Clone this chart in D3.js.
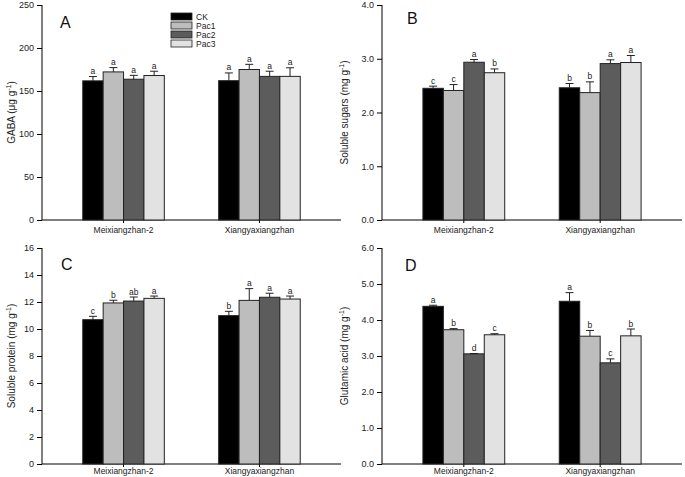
<!DOCTYPE html>
<html><head><meta charset="utf-8">
<script src="https://cdn.jsdelivr.net/npm/d3@7"></script>
<style>body{margin:0;background:#fff}svg{font-family:"Liberation Sans",Arial,sans-serif}</style>
</head><body><svg id="c" width="685" height="477"></svg>
<script>
const categories = ["Meixiangzhan-2", "Xiangyaxiangzhan"];
const series = ["CK", "Pac1", "Pac2", "Pac3"];
const colors = ["#000000", "#bdbdbd", "#5c5c5c", "#e2e2e2"];

// Panel A: GABA
const gabaValues = [[161.8, 172.2, 163.7, 168.0], [162.0, 175.0, 167.0, 167.0]];
const gabaErrors = [[5, 5, 4.5, 5], [9, 6, 6, 10]];
const gabaLetters = [["a","a","a","a"], ["a","a","a","a"]];
const gabaTicks = [0, 50, 100, 150, 200, 250];

// Panel B: Soluble sugars
const sugarValues = [[2.45, 2.41, 2.935, 2.74], [2.46, 2.37, 2.91, 2.93]];
const sugarErrors = [[0.04, 0.11, 0.05, 0.07], [0.08, 0.20, 0.07, 0.13]];
const sugarLetters = [["c","c","a","b"], ["b","b","a","a"]];
const sugarTicks = [0, 1, 2, 3, 4];

// Panel C: Soluble protein
const proteinValues = [[10.69, 11.93, 12.07, 12.27], [10.99, 12.12, 12.35, 12.22]];
const proteinErrors = [[0.25, 0.2, 0.3, 0.17], [0.32, 0.87, 0.3, 0.22]];
const proteinLetters = [["c","b","ab","a"], ["b","a","a","a"]];
const proteinTicks = [0, 2, 4, 6, 8, 10, 12, 14, 16];

// Panel D: Glutamic acid
const gluValues = [[4.38, 3.73, 3.06, 3.59], [4.52, 3.55, 2.81, 3.56]];
const gluErrors = [[0.03, 0.03, 0.01, 0.03], [0.24, 0.16, 0.11, 0.19]];
const gluLetters = [["a","b","d","c"], ["a","b","c","b"]];
const gluTicks = [0, 1, 2, 3, 4, 5, 6];

const svg = d3.select("#c");

function panel(cfg) {
  const g = svg.append("g");
  const y = d3.scaleLinear().domain([0, cfg.max]).range([cfg.yBot, cfg.yTop]);
  const x = d3.scaleBand().domain(categories).range([cfg.x0, cfg.x1]).paddingInner(0.4).paddingOuter(0.3);
  const xs = d3.scaleBand().domain(series).range([0, x.bandwidth()]);

  // y axis
  const ya = g.append("g").attr("transform", `translate(${cfg.x0},0)`)
    .call(d3.axisLeft(y).tickValues(cfg.ticks).tickSize(5).tickPadding(3).tickFormat(cfg.fmt));
  ya.select(".domain").attr("stroke", "#000").attr("d", `M0,${cfg.yTop}V${cfg.yBot}`);
  ya.selectAll("text").attr("font-size", 9).attr("fill", "#222").attr("font-family", "Liberation Sans, Arial, sans-serif");

  // x axis
  const xa = g.append("g").attr("transform", `translate(0,${cfg.yBot})`)
    .call(d3.axisBottom(x).tickSize(3).tickPadding(cfg.xpad));
  xa.select(".domain").attr("d", `M${cfg.x0},0H${cfg.x1}`);
  xa.selectAll("text").attr("font-size", 8.5).attr("fill", "#222").attr("font-family", "Liberation Sans, Arial, sans-serif");

  // bars
  categories.forEach((cat, ci) => {
    series.forEach((s, si) => {
      const v = cfg.values[ci][si], e = cfg.errors[ci][si];
      const bx = x(cat) + xs(s), bw = xs.bandwidth();
      g.append("rect").attr("x", bx).attr("y", y(v)).attr("width", bw).attr("height", y(0) - y(v))
        .attr("fill", colors[si]).attr("stroke", "#222").attr("stroke-width", 1);
      const cx = bx + bw / 2;
      g.append("line").attr("x1", cx).attr("x2", cx).attr("y1", y(v)).attr("y2", y(v + e)).attr("stroke", "#222");
      g.append("line").attr("x1", cx - 4).attr("x2", cx + 4).attr("y1", y(v + e)).attr("y2", y(v + e)).attr("stroke", "#222");
      g.append("text").attr("x", cx).attr("y", y(v + e) - 2.5).attr("text-anchor", "middle")
        .attr("font-size", 8.5).attr("fill", "#222").text(cfg.letters[ci][si]);
    });
  });

  // panel letter
  g.append("text").attr("x", cfg.lx).attr("y", cfg.ly).attr("font-size", 16).attr("fill", "#111").text(cfg.letter);

  // y title
  const t = g.append("text").attr("transform", `translate(${cfg.tx},${(cfg.yTop + cfg.yBot) / 2}) rotate(-90)`)
    .attr("text-anchor", "middle").attr("font-size", 10).attr("fill", "#222");
  t.append("tspan").text(cfg.title + " (" + cfg.unit + " g");
  t.append("tspan").attr("dy", -4).attr("font-size", 7).text("-1");
  t.append("tspan").attr("dy", 4).text(")");
  return g;
}

const f1 = d3.format(".1f");
panel({x0: 42, x1: 341, yTop: 5, yBot: 220, max: 250, ticks: gabaTicks, fmt: d3.format("d"), xpad: 4,
  values: gabaValues, errors: gabaErrors, letters: gabaLetters, letter: "A", lx: 60, ly: 28, tx: 15,
  title: "GABA", unit: "μg"});
panel({x0: 382, x1: 682, yTop: 5, yBot: 220, max: 4, ticks: sugarTicks, fmt: f1, xpad: 4,
  values: sugarValues, errors: sugarErrors, letters: sugarLetters, letter: "B", lx: 407, ly: 24, tx: 348,
  title: "Soluble sugars", unit: "mg"});
panel({x0: 42, x1: 341, yTop: 248, yBot: 464, max: 16, ticks: proteinTicks, fmt: d3.format("d"), xpad: 0.5,
  values: proteinValues, errors: proteinErrors, letters: proteinLetters, letter: "C", lx: 61, ly: 270, tx: 15,
  title: "Soluble protein", unit: "mg"});
panel({x0: 382, x1: 682, yTop: 248, yBot: 464, max: 6, ticks: gluTicks, fmt: f1, xpad: 0.5,
  values: gluValues, errors: gluErrors, letters: gluLetters, letter: "D", lx: 405, ly: 271, tx: 348,
  title: "Glutamic acid", unit: "mg"});

// legend in panel A
const lg = svg.append("g");
series.forEach((s, i) => {
  lg.append("rect").attr("x", 171).attr("y", 13 + i * 9).attr("width", 21).attr("height", 7)
    .attr("fill", colors[i]).attr("stroke", "#222").attr("stroke-width", 0.8);
  lg.append("text").attr("x", 196).attr("y", 19.5 + i * 9).attr("font-size", 8.5).attr("fill", "#222").text(s);
});
</script></body></html>
